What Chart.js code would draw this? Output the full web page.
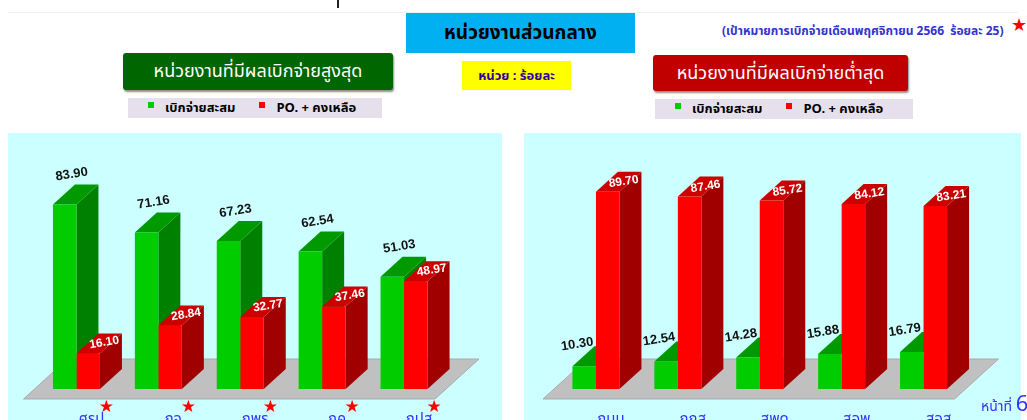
<!DOCTYPE html>
<html><head><meta charset="utf-8">
<script src="https://cdn.jsdelivr.net/npm/chart.js@4.4.0/dist/chart.umd.min.js"></script>
<style>
html,body{margin:0;padding:0;width:1027px;height:420px;overflow:hidden;background:#fff;font-family:Tahoma,"Noto Sans Thai","Noto Sans",sans-serif;}
.abs{position:absolute;}
#vline{left:337px;top:0;width:2px;height:8px;background:#222;}
#hline{left:8px;top:12px;width:1010px;height:1px;background:#f0f0f0;}
#title{left:406px;top:13px;width:229px;height:40px;background:#00b0f0;display:flex;align-items:center;justify-content:center;font-weight:bold;font-size:19px;color:#000;}
#target{left:722px;top:22px;font-size:12px;font-weight:bold;color:#3333cc;white-space:nowrap;line-height:18px;}
#tstar{left:1011px;top:15px;font-size:18px;color:#f00;font-family:"DejaVu Sans";line-height:20px;}
.hdr{display:flex;align-items:center;justify-content:center;color:#fff;font-size:18px;border-radius:3px;box-shadow:1px 2px 2px rgba(0,0,0,.45);}
#hi{left:123px;top:53px;width:270px;height:37px;background:#006600;}
#lo{left:653px;top:55px;width:255px;height:36px;background:#c00000;}
#unit{left:462px;top:61px;width:109px;height:29px;background:#ffff00;color:#330099;font-weight:bold;font-size:13px;display:flex;align-items:center;justify-content:center;}
.legend{height:20px;background:#e6e0ec;font-size:13px;font-weight:bold;color:#000;display:flex;align-items:center;white-space:nowrap;}
.sq{display:inline-block;width:6px;height:6px;margin-right:11px;position:relative;top:-3px;}
#lg1{left:128px;top:98px;width:254px;}
#lg2{left:655px;top:99px;width:258px;}
.panel{background:#ccffff;}
#p1{left:8px;top:133px;width:494px;height:300px;}
#p2{left:524px;top:133px;width:497px;height:300px;}
#page{left:981px;top:393px;color:#3333ff;font-size:14px;white-space:nowrap;line-height:24px;}
#page b{font-weight:normal;font-size:22px;}
</style></head>
<body>
<div id="vline" class="abs"></div>
<div id="hline" class="abs"></div>
<div id="title" class="abs">หน่วยงานส่วนกลาง</div>
<div id="target" class="abs">(เป้าหมายการเบิกจ่ายเดือนพฤศจิกายน 2566&nbsp; ร้อยละ 25)</div>
<div id="tstar" class="abs">★</div>
<div id="hi" class="abs hdr">หน่วยงานที่มีผลเบิกจ่ายสูงสุด</div>
<div id="unit" class="abs">หน่วย : ร้อยละ</div>
<div id="lo" class="abs hdr">หน่วยงานที่มีผลเบิกจ่ายต่ำสุด</div>
<div id="lg1" class="abs legend"></div>
<div id="lg2" class="abs legend"></div>
<div id="p1" class="abs panel"><canvas id="c1" width="494" height="300"></canvas></div>
<div id="p2" class="abs panel"><canvas id="c2" width="497" height="300"></canvas></div>
<div id="page" class="abs">หน้าที่ <b>6</b></div>
<script>
const legendLabels = ['เบิกจ่ายสะสม', 'PO. + คงเหลือ'];
const leftCategories = ['ศรป.', 'กจ.', 'กพร.', 'กค.', 'กปส.'];
const leftDisbursed = [83.90, 71.16, 67.23, 62.54, 51.03];
const leftRemaining = [16.10, 28.84, 32.77, 37.46, 48.97];
const rightCategories = ['กนบ.', 'กกส.', 'สพด.', 'สอพ.', 'สอส.'];
const rightDisbursed = [10.30, 12.54, 14.28, 15.88, 16.79];
const rightRemaining = [89.70, 87.46, 85.72, 84.12, 83.21];

const palette = {
  green: {front: '#00cc00', top: '#009900', side: '#008000', label: '#111111'},
  red:   {front: '#ff0000', top: '#cc0000', side: '#a00000', label: '#ffffff'}
};
const DX = 22, DY = 20;

function buildLegend(id, sqGap) {
  const el = document.getElementById(id);
  el.innerHTML =
    `<span class="sq" style="background:#00cc00;margin-left:20px"></span><span>${legendLabels[0]}</span>` +
    `<span class="sq" style="background:#ff0000;margin-left:${sqGap}px"></span><span>${legendLabels[1]}</span>`;
}
buildLegend('lg1', 24);
buildLegend('lg2', 24);

function poly(ctx, pts, color) {
  ctx.beginPath();
  ctx.moveTo(pts[0][0], pts[0][1]);
  for (let k = 1; k < pts.length; k++) ctx.lineTo(pts[k][0], pts[k][1]);
  ctx.closePath();
  ctx.fillStyle = color;
  ctx.fill();
}

const bar3d = {
  id: 'bar3d',
  beforeDatasetsDraw(chart) {
    const ctx = chart.ctx, a = chart.chartArea;
    ctx.save();
    const fy = a.bottom + 10, fl = a.left - 12, fr = a.right - 10;
    poly(ctx, [[fl, fy], [fr, fy], [fr + 2 * DX, fy - 2 * DY], [fl + 2 * DX, fy - 2 * DY]], '#c0c0c0');
    ctx.strokeStyle = '#a9a9a9'; ctx.lineWidth = 1; ctx.stroke();
    const n = chart.data.labels.length;
    for (let i = 0; i < n; i++) {
      chart.data.datasets.forEach((ds, d) => {
        const el = chart.getDatasetMeta(d).data[i];
        const p = el.getProps(['x', 'y', 'base', 'width'], true);
        const l = p.x - p.width / 2, r = p.x + p.width / 2;
        const c = palette[ds.colorKey];
        poly(ctx, [[r, p.y], [r + DX, p.y - DY], [r + DX, p.base - DY], [r, p.base]], c.side);
        poly(ctx, [[l, p.y], [r, p.y], [r + DX, p.y - DY], [l + DX, p.y - DY]], c.top);
      });
    }
    ctx.restore();
  },
  afterDatasetsDraw(chart, args, opts) {
    const ctx = chart.ctx;
    ctx.save();
    chart.data.datasets.forEach((ds, d) => {
      const meta = chart.getDatasetMeta(d);
      const c = palette[ds.colorKey];
      const off = ds.colorKey === 'green' ? opts.greenOffset : opts.redOffset;
      ctx.font = ds.colorKey === 'green' ? 'bold 13px "Liberation Sans", Arial, sans-serif' : 'bold 12px "Liberation Sans", Arial, sans-serif';
      ctx.fillStyle = c.label;
      ctx.textAlign = 'center';
      ctx.textBaseline = 'middle';
      meta.data.forEach((el, i) => {
        const p = el.getProps(['x', 'y'], true);
        ctx.save();
        ctx.translate(p.x + off[0], p.y + off[1]);
        ctx.rotate(-9 * Math.PI / 180);
        ctx.fillText(ds.data[i].toFixed(2), 0, 0);
        ctx.restore();
      });
    });
    if (opts.stars) {
      const xs = chart.scales.x, a = chart.chartArea;
      ctx.fillStyle = '#ff0000';
      ctx.font = '17px "DejaVu Sans", sans-serif';
      ctx.textAlign = 'center';
      ctx.textBaseline = 'middle';
      chart.data.labels.forEach((lab, i) => {
        ctx.fillText('★', xs.getPixelForValue(i) + 30, a.bottom + 19);
      });
    }
    ctx.restore();
  }
};

function makeChart(id, cats, green, red, padL, padR, opts) {
  return new Chart(document.getElementById(id), {
    type: 'bar',
    data: {
      labels: cats,
      datasets: [
        {label: legendLabels[0], data: green, colorKey: 'green', backgroundColor: palette.green.front, borderWidth: 0},
        {label: legendLabels[1], data: red, colorKey: 'red', backgroundColor: palette.red.front, borderWidth: 0}
      ]
    },
    options: {
      responsive: false,
      animation: false,
      events: [],
      layout: {padding: {top: 36, left: padL, right: padR, bottom: 0}},
      datasets: {bar: {categoryPercentage: 0.574, barPercentage: 1}},
      scales: {
        y: {display: false, min: 0, max: 100},
        x: {
          grid: {display: false, drawTicks: false},
          border: {display: false},
          ticks: {color: '#3333ff', font: {size: 15, family: 'Tahoma, "Noto Sans Thai", "Noto Sans", sans-serif'}, labelOffset: 17, padding: 23, maxRotation: 0, autoSkip: false},
          afterFit(scale) { scale.height = 44; }
        }
      },
      plugins: {legend: {display: false}, tooltip: {enabled: false}, bar3d: opts}
    },
    plugins: [bar3d]
  });
}

makeChart('c1', leftCategories, leftDisbursed, leftRemaining, 27.5, 57,
  {greenOffset: [7, -30], redOffset: [16, -11], stars: true});
makeChart('c2', rightCategories, rightDisbursed, rightRemaining, 31, 56.5,
  {greenOffset: [-7, -22], redOffset: [16, -10], stars: false});
</script>
</body></html>
